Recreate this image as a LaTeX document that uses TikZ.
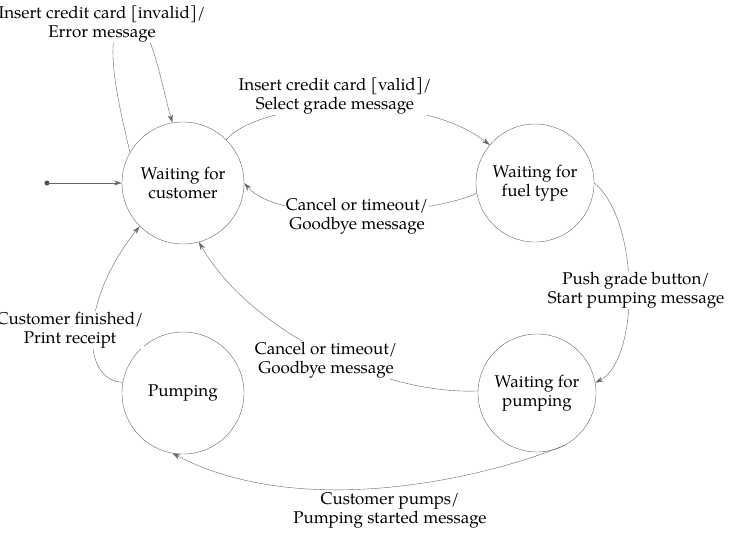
\documentclass[tikz,border=0pt]{standalone}
\usepackage{fontspec}
\setmainfont{TeX Gyre Pagella}
\usetikzlibrary{arrows.meta}
\begin{document}
\begin{tikzpicture}[x=1pt,y=-1pt,
  st/.style={circle,draw=black!60,minimum size=122pt,inner sep=0pt,align=center,font=\fontsize{17}{19}\selectfont},
  tr/.style={draw=black!60,-{Stealth[length=8pt,width=5pt]}},
  lb/.style={fill=white,align=center,inner sep=1pt,font=\fontsize{17}{19}\selectfont}]
\useasboundingbox (0,0) rectangle (738,542);
\node[st] (c) at (183,183) {Waiting for\\customer};
\node[st,minimum size=118pt] (f) at (535,183) {Waiting for\\fuel type};
\node[st,minimum size=118pt] (w) at (537,393) {Waiting for\\pumping};
\node[st] (p) at (183,393) {Pumping};
\coordinate (s) at (47,183);
\fill[black!70] (s) circle (2.5pt);
\draw[tr] (s) -- (c);
% curves first
\draw[tr] (c.150) .. controls (120,110) and (100,30) .. (125,20) .. controls (150,10) and (160,80) .. (c.100);
\draw[tr] (c.45) .. controls (260,100) and (420,90) .. (f.140);
\draw[tr] (f.190) .. controls (430,215) and (280,225) .. (c.0);
\draw[tr] (f.0) .. controls (640,220) and (640,360) .. (w.10);
\draw[tr] (w.178) .. controls (380,395) and (250,330) .. (c.-75);
\draw[tr] (w.-62) .. controls (480,480) and (300,520) .. (p.-100);
\draw[tr] (p.170) .. controls (80,380) and (80,300) .. (c.-135);
% labels
\node[lb] (l1) at (102,24) {Insert credit card [invalid]/\\Error message};
\node[lb] (l2) at (335,96) {Insert credit card [valid]/\\Select grade message};
\node[lb] (l3) at (357,216) {Cancel or timeout/\\Goodbye message};
\node[lb] (l4) at (636,290) {Push grade button/\\Start pumping message};
\node[lb] (l5) at (326,360) {Cancel or timeout/\\Goodbye message};
\node[lb] (l6) at (390,510) {Customer pumps/\\Pumping started message};
\node[lb] (l7) at (70,330) {Customer finished/\\Print receipt};
\end{tikzpicture}
\end{document}
